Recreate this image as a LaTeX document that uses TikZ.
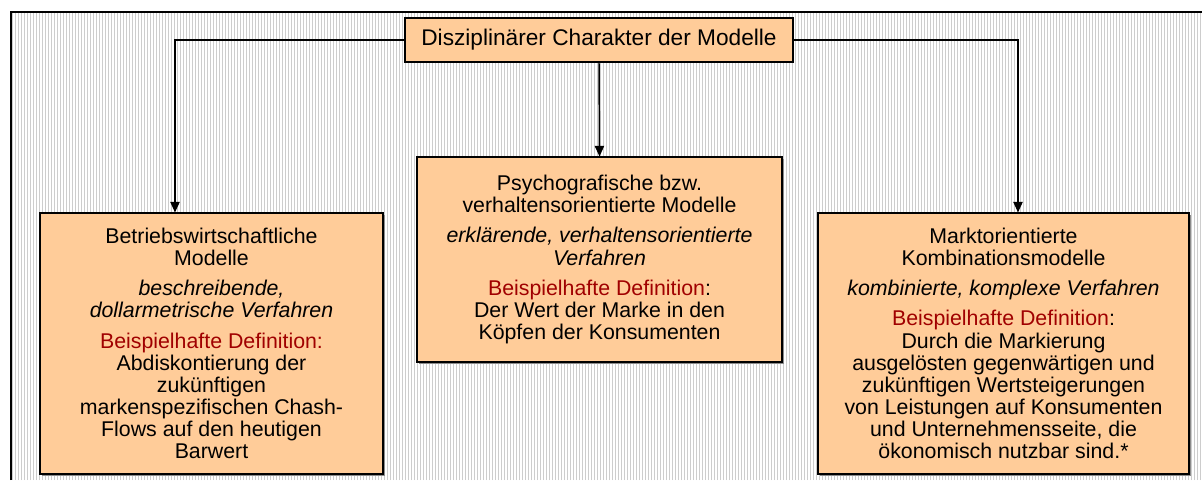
\documentclass[tikz,border=0pt]{standalone}
\usepackage{fontspec}
\setmainfont{Liberation Sans}
\usetikzlibrary{arrows.meta,calc}
\definecolor{boxfill}{RGB}{255,204,153}
\definecolor{defred}{RGB}{160,0,0}
\definecolor{gridline}{RGB}{205,205,205}
\tikzset{
  modelbox/.style={draw=black, line width=0.8pt, fill=boxfill, align=center,
    inner sep=0pt, font=\fontsize{16}{16.6}\selectfont},
  titlebox/.style={draw=black, line width=0.8pt, fill=boxfill, align=center,
    inner sep=0pt, font=\fontsize{17}{19}\selectfont},
  link/.style={draw=black, line width=1.1pt, -{Triangle[length=8pt,width=7pt]}},
  shadowbox/.style={fill=black!45}
}
\newcommand{\defhead}{\textcolor{defred}{Beispielhafte Definition}}
\begin{document}
\begin{tikzpicture}[x=0.75pt,y=-0.75pt]
  \useasboundingbox (0,0) rectangle (1202,480);
  % paper with fine grid
  \fill[white] (11,12) rectangle (1202,480);
  \draw[gridline, line width=0.6pt, step=3] (11,12) grid (1202,480);
  \draw[black, line width=1.2pt] (11,480) -- (11,12) -- (1202,12);

  % shadows behind the boxes
  \fill[shadowbox] (41.5,214.5) rectangle (384.5,475.5);
  \fill[shadowbox] (418.5,158.5) rectangle (783.5,363.5);
  \fill[shadowbox] (819.5,214.5) rectangle (1190.5,475.5);

  \node[titlebox, minimum width=388*0.75pt, minimum height=44*0.75pt]
    (title) at (599,40) {Disziplinärer Charakter der Modelle};

  \node[modelbox, minimum width=343*0.75pt, minimum height=261*0.75pt]
    (lbox) at (211.5,343.5)
    {Betriebswirtschaftliche\\Modelle\\[6pt]
     \textit{beschreibende,}\\\textit{dollarmetrische Verfahren}\\[6pt]
     \textcolor{defred}{Beispielhafte Definition:}\\
     Abdiskontierung der\\zukünftigen\\markenspezifischen Chash-\\
     Flows auf den heutigen\\Barwert};

  \node[modelbox, minimum width=365*0.75pt, minimum height=205*0.75pt]
    (mbox) at (599.5,259.5)
    {Psychografische bzw.\\verhaltensorientierte Modelle\\[6pt]
     \textit{erklärende, verhaltensorientierte}\\\textit{Verfahren}\\[6pt]
     \defhead:\\
     Der Wert der Marke in den\\Köpfen der Konsumenten};

  \node[modelbox, minimum width=371*0.75pt, minimum height=261*0.75pt]
    (rbox) at (1003.5,343.5)
    {Marktorientierte\\Kombinationsmodelle\\[6pt]
     \textit{kombinierte, komplexe Verfahren}\\[6pt]
     \defhead:\\
     Durch die Markierung\\ausgelösten gegenwärtigen und\\
     zukünftigen Wertsteigerungen\\von Leistungen auf Konsumenten\\
     und Unternehmensseite, die\\ökonomisch nutzbar sind.*};

  \draw[link] (title.west) -| ([xshift=-36.5*0.75pt]lbox.north);
  \draw[link] (title.south) -- (mbox.north);
  \draw[link] (title.east) -| ([xshift=14.5*0.75pt]rbox.north);
\end{tikzpicture}
\end{document}
